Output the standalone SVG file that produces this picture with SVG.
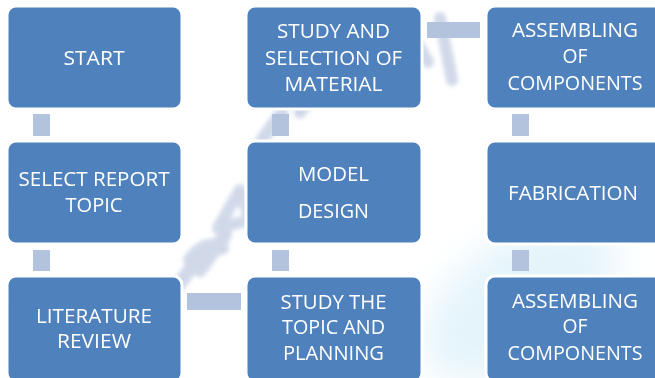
<svg xmlns="http://www.w3.org/2000/svg" width="655" height="378" viewBox="0 0 655 378">
  <defs>
    <style>
      .box { fill: #4f81bd; stroke: #ffffff; stroke-width: 3; }
      .bar { fill: #b3c2dd; }
      .lbl { fill: #ffffff; font-family: "Open Sans", "Noto Sans", "Liberation Sans", sans-serif; font-size: 20px; text-anchor: middle; }
      .mark { fill: none; stroke: #c9d3e6; stroke-linecap: round; stroke-linejoin: round; }
    </style>
    <filter id="soft" x="-20%" y="-20%" width="140%" height="140%">
      <feGaussianBlur stdDeviation="2"/>
    </filter>
    <filter id="haze" x="-30%" y="-30%" width="160%" height="160%">
      <feGaussianBlur stdDeviation="18"/>
    </filter>
  </defs>

  <rect width="655" height="378" fill="#ffffff"/>

  <!-- faint background marks -->
  <g id="background" opacity="0.85">
    <ellipse cx="520" cy="300" rx="110" ry="60" fill="#e0f2fa" filter="url(#haze)" transform="rotate(-35 520 300)"/>
    <g filter="url(#soft)">
      <path class="mark" stroke-width="14" d="M175 290 L200 255 M200 270 L225 235 M190 260 Q205 240 222 248"/>
      <path class="mark" stroke-width="12" d="M218 228 L240 190 L250 220 Z"/>
      <path class="mark" stroke-width="13" d="M262 140 L282 112 M300 112 L318 88"/>
      <path class="mark" stroke-width="12" d="M405 22 L428 62 M440 18 L452 80"/>
    </g>
  </g>

  <!-- connectors -->
  <g id="connectors">
    <rect class="bar" x="33" y="114" width="17" height="22"/>
    <rect class="bar" x="33" y="250" width="17" height="21"/>
    <rect class="bar" x="272" y="114" width="17" height="22"/>
    <rect class="bar" x="272" y="250" width="17" height="21"/>
    <rect class="bar" x="512" y="114" width="17" height="22"/>
    <rect class="bar" x="512" y="250" width="17" height="21"/>
    <rect class="bar" x="427" y="22" width="53" height="16"/>
    <rect class="bar" x="187" y="293" width="54" height="17"/>
  </g>

  <g id="start">
    <rect class="box" x="7" y="6" width="175" height="103" rx="9"/>
    <text class="lbl" x="94" y="65" textLength="61" lengthAdjust="spacingAndGlyphs">START</text>
  </g>

  <g id="select-report-topic">
    <rect class="box" x="7" y="141" width="175" height="103" rx="9"/>
    <text class="lbl" x="94" y="186" textLength="151" lengthAdjust="spacingAndGlyphs">SELECT REPORT</text>
    <text class="lbl" x="94" y="212" textLength="57" lengthAdjust="spacingAndGlyphs">TOPIC</text>
  </g>

  <g id="literature-review">
    <rect class="box" x="7" y="276" width="175" height="106" rx="9"/>
    <text class="lbl" x="94" y="323" textLength="116" lengthAdjust="spacingAndGlyphs">LITERATURE</text>
    <text class="lbl" x="94" y="348" textLength="74" lengthAdjust="spacingAndGlyphs">REVIEW</text>
  </g>

  <g id="study-selection-material">
    <rect class="box" x="246" y="6" width="176" height="103" rx="9"/>
    <text class="lbl" x="333.5" y="38" textLength="113" lengthAdjust="spacingAndGlyphs">STUDY AND</text>
    <text class="lbl" x="333.5" y="65" textLength="137" lengthAdjust="spacingAndGlyphs">SELECTION OF</text>
    <text class="lbl" x="333.5" y="91" textLength="98" lengthAdjust="spacingAndGlyphs">MATERIAL</text>
  </g>

  <g id="model-design">
    <rect class="box" x="246" y="141" width="176" height="103" rx="9"/>
    <text class="lbl" x="333.5" y="181" textLength="71" lengthAdjust="spacingAndGlyphs">MODEL</text>
    <text class="lbl" x="333.5" y="218" textLength="71" lengthAdjust="spacingAndGlyphs">DESIGN</text>
  </g>

  <g id="study-topic-planning">
    <rect class="box" x="246" y="276" width="176" height="106" rx="9"/>
    <text class="lbl" x="333.5" y="309" textLength="106" lengthAdjust="spacingAndGlyphs">STUDY THE</text>
    <text class="lbl" x="333.5" y="334" textLength="103" lengthAdjust="spacingAndGlyphs">TOPIC AND</text>
    <text class="lbl" x="333.5" y="360" textLength="101" lengthAdjust="spacingAndGlyphs">PLANNING</text>
  </g>

  <g id="assembling-top">
    <rect class="box" x="486" y="6" width="178" height="103" rx="9"/>
    <text class="lbl" x="575" y="37" textLength="126" lengthAdjust="spacingAndGlyphs">ASSEMBLING</text>
    <text class="lbl" x="575" y="63" textLength="25" lengthAdjust="spacingAndGlyphs">OF</text>
    <text class="lbl" x="575" y="90" textLength="135" lengthAdjust="spacingAndGlyphs">COMPONENTS</text>
  </g>

  <g id="fabrication">
    <rect class="box" x="486" y="141" width="178" height="103" rx="9"/>
    <text class="lbl" x="573" y="200" textLength="130" lengthAdjust="spacingAndGlyphs">FABRICATION</text>
  </g>

  <g id="assembling-bottom">
    <rect class="box" x="486" y="276" width="178" height="106" rx="9"/>
    <text class="lbl" x="575" y="308" textLength="126" lengthAdjust="spacingAndGlyphs">ASSEMBLING</text>
    <text class="lbl" x="575" y="333" textLength="25" lengthAdjust="spacingAndGlyphs">OF</text>
    <text class="lbl" x="575" y="360" textLength="135" lengthAdjust="spacingAndGlyphs">COMPONENTS</text>
  </g>
</svg>
